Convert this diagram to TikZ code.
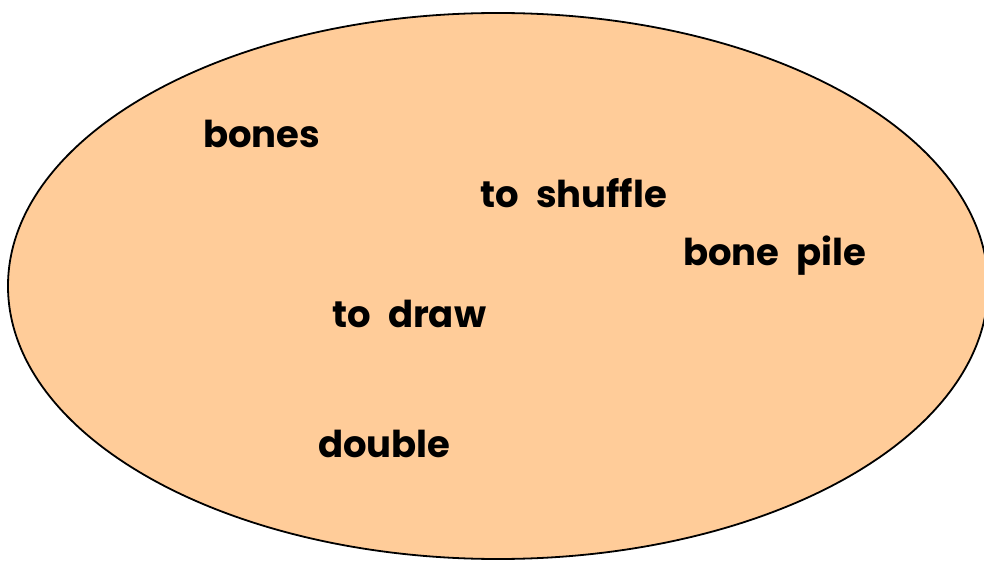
\documentclass[tikz,border=0pt]{standalone}
\usepackage{fontspec}
\setmainfont{Poppins}[WordSpace=2.2]
\definecolor{peach}{HTML}{FFCC99}
\begin{document}
\begin{tikzpicture}[x=1pt,y=-1pt,
  word/.style={anchor=base west,inner sep=0pt,font=\bfseries\fontsize{37}{40}\selectfont}]
\useasboundingbox (0,0) rectangle (984,561);
\path[fill=peach,draw=black,line width=1.8pt] (498,286) ellipse [x radius=490, y radius=273];
\node[word] (bones) at (203,148) {bones};
\node[word] (shuffle) at (480,208) {to shuffle};
\node[word] (pile) at (683,265) {bone pile};
\node[word] (draw) at (332,327) {to draw};
\node[word] (double) at (318,457) {double};
\end{tikzpicture}
\end{document}
